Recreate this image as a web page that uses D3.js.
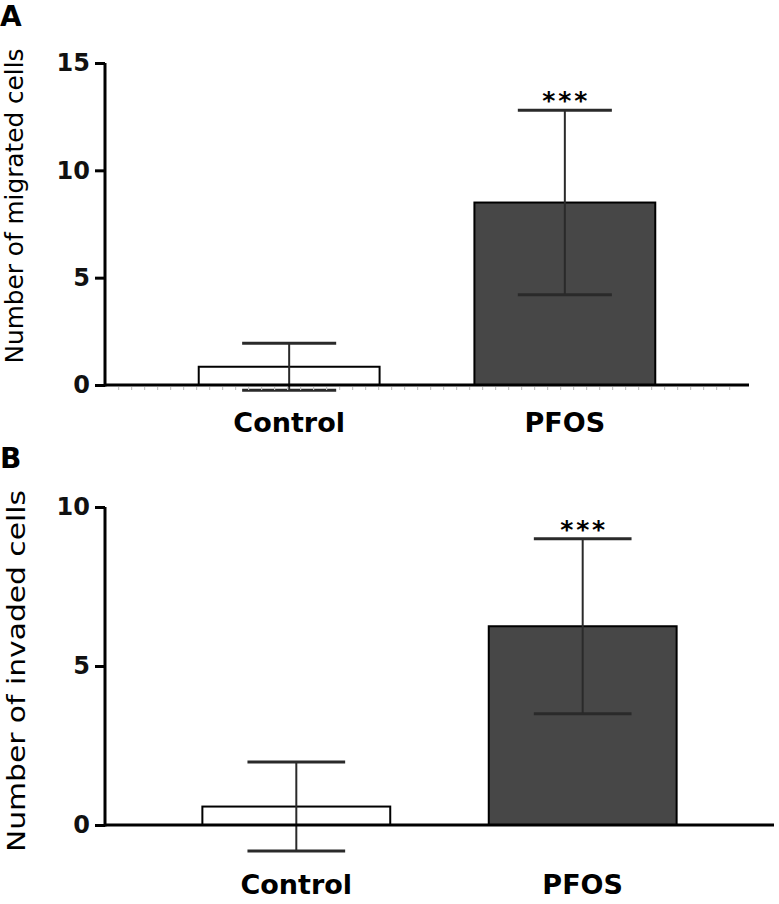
<!DOCTYPE html>
<html>
<head>
<meta charset="utf-8">
<script src="https://cdn.jsdelivr.net/npm/d3@7"></script>
<style>
  body { margin: 0; background: #fff; }
  svg { display: block; font-family: "DejaVu Sans", sans-serif; }
</style>
</head>
<body>
<svg width="779" height="904"></svg>
<script>
// dados
const groups = ["Control", "PFOS"];
const migratedMean = [0.85, 8.5];
const migratedSd = [1.1, 4.3];
const invadedMean = [0.58, 6.25];
const invadedSd = [1.4, 2.75];
const migratedTicks = [0, 5, 10, 15];
const invadedTicks = [0, 5, 10];
const signif = ["", "***"];

const svg = d3.select("svg");

function drawPanel(p) {
    const g = svg.append("g");
    const data = groups.map((name, i) => ({ name, mean: p.mean[i], sd: p.sd[i], star: signif[i] }));

    const x = d3.scaleBand()
        .domain(groups)
        .range([p.left, p.right])
        .paddingInner(0.344)
        .paddingOuter(0.34);

    const y = d3.scaleLinear()
        .domain([0, d3.max(p.ticks)])
        .range([p.bottom, p.top]);

    // letra do painel
    g.append("text")
        .attr("x", 0).attr("y", p.letterY)
        .attr("font-size", 28).attr("font-weight", "bold")
        .text(p.letter);

    // barras
    g.selectAll("rect.bar")
        .data(data)
        .enter()
        .append("rect")
        .attr("class", "bar")
        .attr("x", d => x(d.name))
        .attr("y", d => y(d.mean))
        .attr("width", x.bandwidth())
        .attr("height", d => y(0) - y(d.mean))
        .attr("fill", (d, i) => i === 0 ? "#fff" : "#474747")
        .attr("stroke", "#000")
        .attr("stroke-width", 2);

    // barras de erro
    const cap = x.bandwidth() * 0.26;
    const err = g.selectAll("g.err").data(data).enter().append("g")
        .attr("class", "err")
        .attr("stroke", "#2a2a2a")
        .attr("stroke-width", 2);
    err.append("line")
        .attr("x1", d => x(d.name) + x.bandwidth() / 2)
        .attr("x2", d => x(d.name) + x.bandwidth() / 2)
        .attr("y1", d => y(d.mean - d.sd))
        .attr("y2", d => y(d.mean + d.sd));
    err.append("line")
        .attr("x1", d => x(d.name) + x.bandwidth() / 2 - cap)
        .attr("x2", d => x(d.name) + x.bandwidth() / 2 + cap)
        .attr("y1", d => y(d.mean + d.sd))
        .attr("y2", d => y(d.mean + d.sd))
        .attr("stroke-width", 3);
    err.append("line")
        .attr("x1", d => x(d.name) + x.bandwidth() / 2 - cap)
        .attr("x2", d => x(d.name) + x.bandwidth() / 2 + cap)
        .attr("y1", d => y(d.mean - d.sd))
        .attr("y2", d => y(d.mean - d.sd))
        .attr("stroke-width", 3);

    // asteriscos
    g.selectAll("text.star")
        .data(data.filter(d => d.star))
        .enter()
        .append("text")
        .attr("class", "star")
        .attr("x", d => x(d.name) + x.bandwidth() / 2)
        .attr("y", d => y(d.mean + d.sd) - 1)
        .attr("text-anchor", "middle")
        .attr("font-size", 25)
        .attr("font-weight", "bold")
        .attr("textLength", 45)
        .attr("lengthAdjust", "spacing")
        .text(d => d.star);

    // eixo x
    if (p.dots) {
        g.append("line")
            .attr("x1", p.left + 13).attr("x2", p.right - 8)
            .attr("y1", p.bottom + 3.5).attr("y2", p.bottom + 3.5)
            .attr("stroke", "#c4c4c4").attr("stroke-width", 3)
            .attr("stroke-dasharray", "1.2,11.8");
    }
    g.append("line")
        .attr("x1", p.left).attr("x2", p.right)
        .attr("y1", p.bottom).attr("y2", p.bottom)
        .attr("stroke", "#000").attr("stroke-width", 3);

    g.selectAll("text.cat")
        .data(groups)
        .enter()
        .append("text")
        .attr("class", "cat")
        .attr("x", d => x(d) + x.bandwidth() / 2)
        .attr("y", p.bottom + p.catOffset)
        .attr("text-anchor", "middle")
        .attr("font-size", 27)
        .attr("font-weight", "bold")
        .text(d => d);

    // eixo y
    const yAxis = d3.axisLeft(y)
        .tickValues(p.ticks)
        .tickSize(10)
        .tickSizeOuter(0)
        .tickPadding(5);
    const ay = g.append("g")
        .attr("transform", `translate(${p.left},0)`)
        .call(yAxis);
    ay.select(".domain").attr("stroke-width", 3).attr("d", `M0,${p.bottom + 1.5}V${p.top}`);
    ay.selectAll(".tick line").attr("stroke-width", 3);
    ay.selectAll(".tick text")
        .attr("font-family", "DejaVu Sans, sans-serif")
        .attr("font-size", 24)
        .attr("font-weight", "bold")
        .attr("fill", "#111");

    // título do eixo y
    g.append("text")
        .attr("transform", `translate(${p.titleX},${p.titleY}) rotate(-90)`)
        .attr("text-anchor", "middle")
        .attr("font-size", 25)
        .attr("textLength", p.titleLen)
        .attr("lengthAdjust", "spacingAndGlyphs")
        .text(p.title);
}

drawPanel({
    letter: "A", letterY: 26,
    left: 105, right: 749, top: 63, bottom: 385,
    mean: migratedMean, sd: migratedSd, ticks: migratedTicks,
    title: "Number of migrated cells", titleX: 23, titleY: 206, titleLen: 315,
    catOffset: 47, dots: true
});

drawPanel({
    letter: "B", letterY: 468,
    left: 105, right: 774, top: 507, bottom: 825,
    mean: invadedMean, sd: invadedSd, ticks: invadedTicks,
    title: "Number of invaded cells", titleX: 25, titleY: 671, titleLen: 362,
    catOffset: 69, dots: false
});
</script>
</body>
</html>
